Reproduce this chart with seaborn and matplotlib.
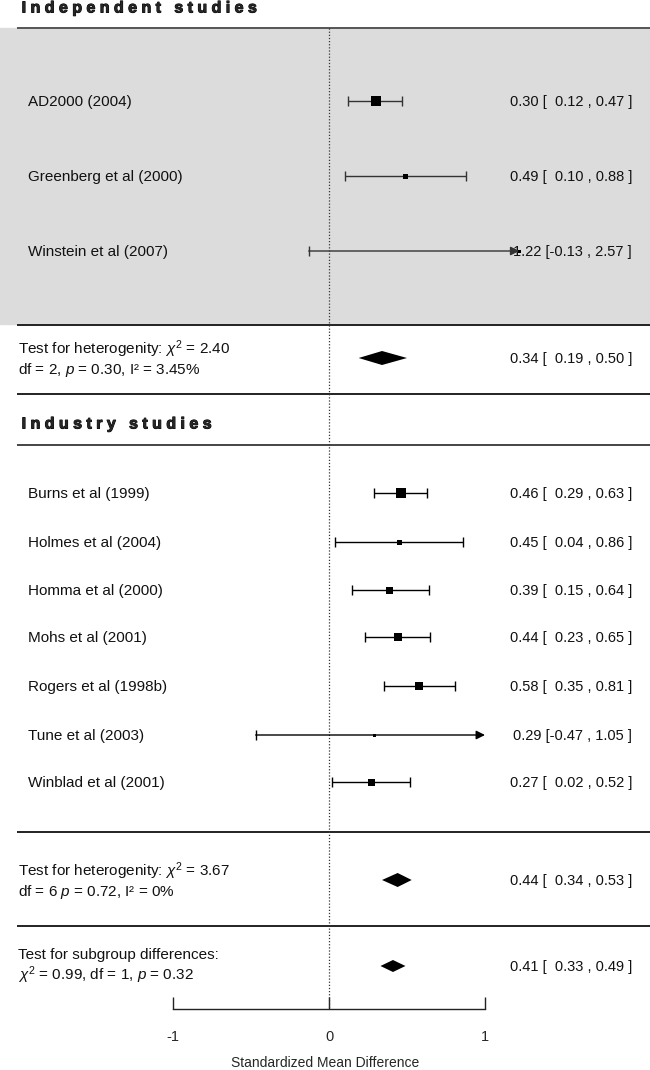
import numpy as np
import matplotlib
matplotlib.use("Agg")
import matplotlib.pyplot as plt
import matplotlib.patheffects as pe
import seaborn as sns

# --- data ---
indep_names = ["AD2000 (2004)", "Greenberg et al (2000)", "Winstein et al (2007)"]
indep_est = [0.30, 0.49, 1.22]
indep_lo = [0.12, 0.10, -0.13]
indep_hi = [0.47, 0.88, 2.57]
indep_w = [10, 5, 3]  # square size (px), study weight

ind_names = ["Burns et al (1999)", "Holmes et al (2004)", "Homma et al (2000)",
             "Mohs et al (2001)", "Rogers et al (1998b)", "Tune et al (2003)",
             "Winblad et al (2001)"]
ind_est = [0.46, 0.45, 0.39, 0.44, 0.58, 0.29, 0.27]
ind_lo = [0.29, 0.04, 0.15, 0.23, 0.35, -0.47, 0.02]
ind_hi = [0.63, 0.86, 0.64, 0.65, 0.81, 1.05, 0.52]
ind_w = [10, 5, 7, 8, 8, 3, 7]

pooled_est = [0.34, 0.44, 0.41]
pooled_lo = [0.19, 0.34, 0.33]
pooled_hi = [0.50, 0.53, 0.49]
pooled_text = [
    "Test for heterogenity: $\\chi^2$ = 2.40\ndf = 2, $p$ = 0.30, I\u00b2 = 3.45%",
    "Test for heterogenity: $\\chi^2$ = 3.67\ndf = 6 $p$ = 0.72, I\u00b2 = 0%",
    "Test for subgroup differences:\n$\\chi^2$ = 0.99, df = 1, $p$ = 0.32",
]

x_ticks = [-1, 0, 1]
x_clip = 1.0  # arrow tip for CIs running off the plotted range

# --- layout (row positions, pixels from top) ---
indep_rows = [101, 176, 251]
ind_rows = [493, 542, 590, 637, 686, 735, 782]
pooled_rows = [358, 880, 966]

sns.set_theme(style="white")
plt.rcParams["font.family"] = ["Liberation Sans", "DejaVu Sans"]
plt.rcParams["mathtext.fontset"] = "custom"
plt.rcParams["mathtext.rm"] = "Liberation Sans"
plt.rcParams["mathtext.it"] = "Liberation Sans:italic"

fig = plt.figure(figsize=(6.5, 10.7), dpi=100)
ax = fig.add_axes([0, 0, 1, 1])
xl, xr = -329 / 156, (650 - 329) / 156
ax.set_xlim(xl, xr)
ax.set_ylim(1070, 0)

# grey band for independent studies
ax.axhspan(28, 324, color="#dcdcdc", zorder=0)

# separators
xs = -312 / 156
for yy, c in [(28, "#555555"), (325, "#222222"), (394, "#222222"),
              (445, "#444444"), (832, "#222222"), (926, "#222222")]:
    ax.hlines(yy, xs, xr, color=c, lw=1.4, zorder=1)

# reference line at 0
ax.vlines(0, 28, 1009, color="#333333", lw=0.9, linestyles=(0, (1, 1.5)), zorder=1)

# headers
thick = [pe.withStroke(linewidth=0.7, foreground="black")]
ax.text(xs + 0.03, 8, "I n d e p e n d e n t   s t u d i e s", fontsize=11.5,
        fontweight="bold", va="center", ha="left", path_effects=thick)
ax.text(xs + 0.03, 424, "I n d u s t r y   s t u d i e s", fontsize=11.5,
        fontweight="bold", va="center", ha="left", path_effects=thick)


def fmt_ci(e, lo, hi):
    lo_s = f"  {lo:.2f}" if lo >= 0 else f"{lo:.2f}"
    return f"{e:.2f} [{lo_s} , {hi:.2f} ]"


def draw_studies(names, est, lo, hi, w, rows, arrow_tip, lc):
    est = np.array(est); lo = np.array(lo); hi = np.array(hi)
    for i, (n, e, l, h, r) in enumerate(zip(names, est, lo, hi, rows)):
        ax.text(-301 / 156, r + 1, n, fontsize=11, va="center", ha="left", color="#111111")
        ax.text(632 / 156 - 329 / 156, r + 1, fmt_ci(e, l, h), fontsize=10.5,
                va="center", ha="right", color="#111111")
        tip = arrow_tip.get(i)
        if tip is None:
            ax.errorbar(e, r, xerr=[[e - l], [h - e]], fmt="none", ecolor=lc,
                        elinewidth=1, capsize=3.5, capthick=1, zorder=3)
        else:
            ax.annotate("", xy=(tip, r), xytext=(l, r), zorder=3,
                        arrowprops=dict(arrowstyle="-|>", color=lc, lw=1,
                                        mutation_scale=13, shrinkA=0, shrinkB=0))
            ax.plot([l], [r], marker="|", ms=7, mew=1, color=lc, zorder=3)
    sns.scatterplot(x=est, y=rows, marker="s", s=[(p * 0.72) ** 2 for p in w],
                    color="black", edgecolor="black", linewidth=0, ax=ax,
                    legend=False, zorder=4)


draw_studies(indep_names, indep_est, indep_lo, indep_hi, indep_w, indep_rows,
             {2: 1.22}, "#333333")
draw_studies(ind_names, ind_est, ind_lo, ind_hi, ind_w, ind_rows,
             {5: x_clip}, "black")

# pooled diamonds
for e, l, h, r, txt, dh in zip(pooled_est, pooled_lo, pooled_hi, pooled_rows,
                               pooled_text, [7, 7, 6]):
    ax.fill([l, e, h, e], [r, r - dh, r, r + dh], color="black", lw=0, zorder=4)
    ax.text(xs + 0.005, r + 1, txt, fontsize=11, va="center", ha="left",
            linespacing=1.1, color="#111111")
    ax.text(632 / 156 - 329 / 156, r + 1, fmt_ci(e, l, h), fontsize=10.5,
            va="center", ha="right", color="#111111")

# x axis
for s in ["left", "right", "top"]:
    ax.spines[s].set_visible(False)
ax.spines["bottom"].set_position(("data", 1009))
ax.spines["bottom"].set_bounds(-1, 1)
ax.spines["bottom"].set_color("#222222")
ax.spines["bottom"].set_linewidth(1)
ax.set_xticks(x_ticks)
ax.set_xticklabels([str(t) for t in x_ticks])
ax.tick_params(axis="x", direction="in", length=9, width=1, color="#222222",
               pad=15, labelsize=10.5, bottom=True)
ax.set_yticks([])
ax.set_xlabel("Standardized Mean Difference", fontsize=10)
ax.xaxis.set_label_coords(0.5, 1 - 1063 / 1070, transform=ax.transAxes)
ax.xaxis.label.set_va("center")

fig.savefig("out.png", dpi=100)
